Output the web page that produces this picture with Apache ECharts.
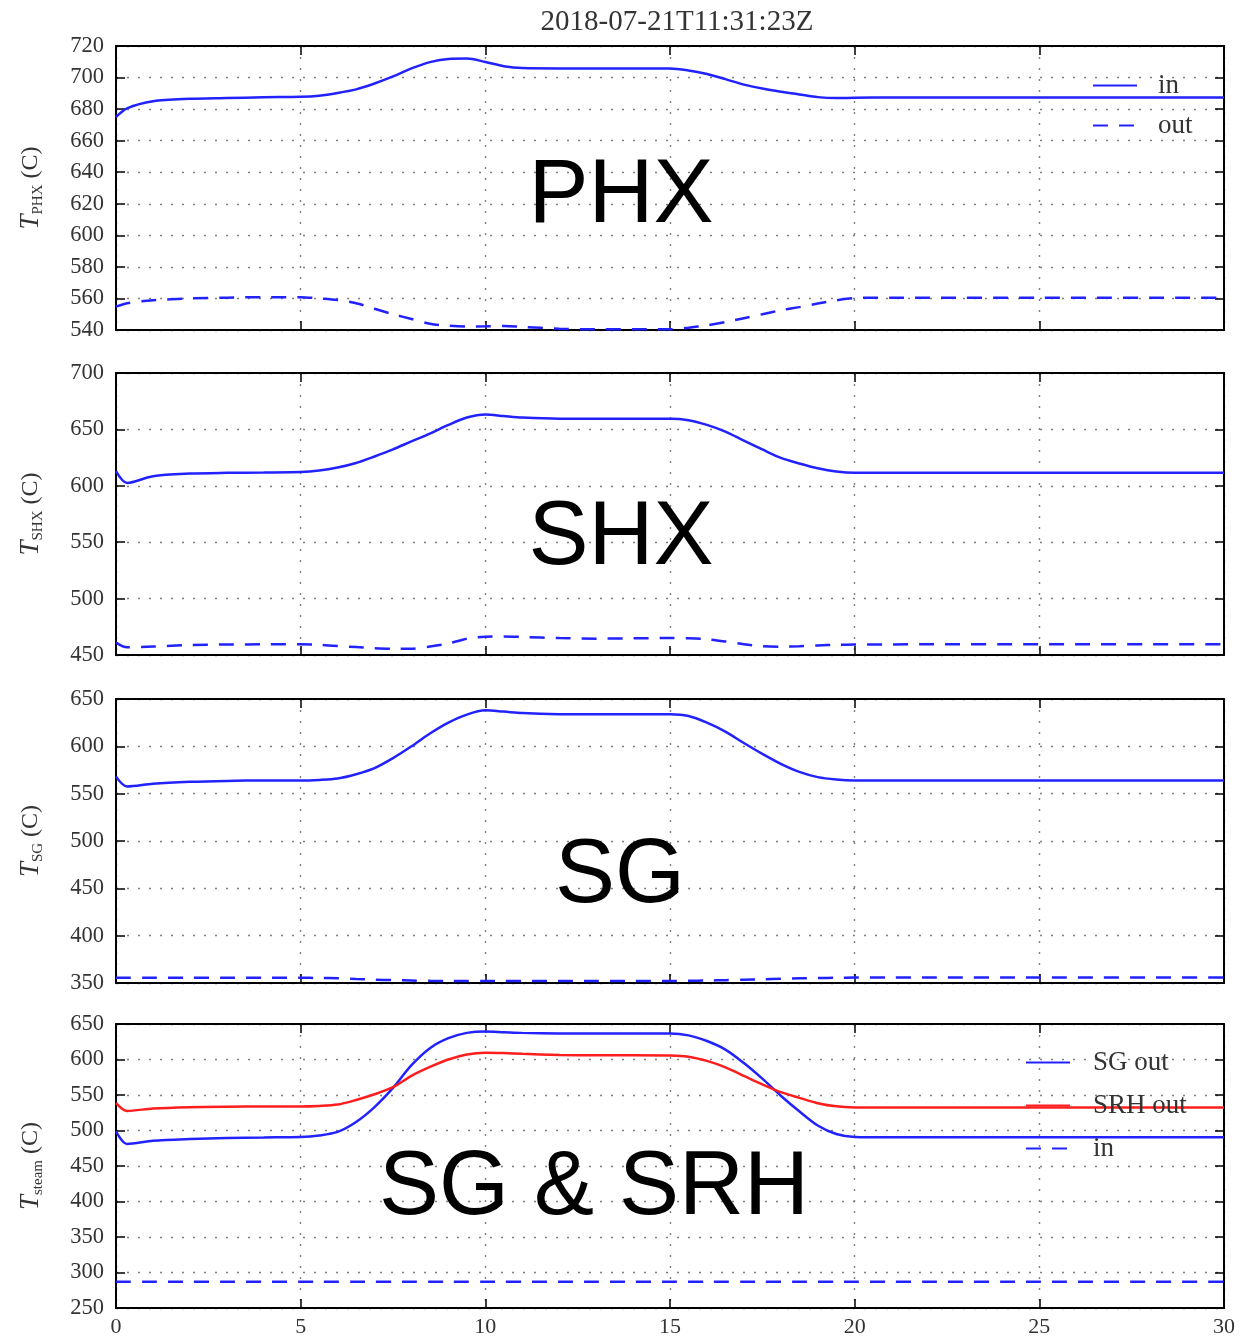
<!DOCTYPE html>
<html><head><meta charset="utf-8">
<script src="https://cdn.jsdelivr.net/npm/echarts@6/dist/echarts.min.js"></script>
<style>html,body{margin:0;padding:0;background:#fff}#c{width:1257px;height:1338px}</style>
</head><body><div id="c"></div>
<script>
// time axis (x)
const t = [0, 0.3, 1, 2, 3, 4, 5, 5.5, 6, 6.5, 7, 7.5, 8, 8.5, 9, 9.5, 10, 10.5, 11, 12, 13, 14, 15, 15.5, 16, 16.5, 17, 17.5, 18, 18.5, 19, 19.5, 20, 21, 22, 25, 30];
const xTicks = [0, 5, 10, 15, 20, 25, 30];
// PHX
const phxIn  = [675, 680.5, 685, 686.5, 687, 687.5, 687.8, 688.5, 690.2, 692.5, 696.2, 700.7, 705.8, 709.8, 711.8, 712, 709.9, 707.2, 706, 705.8, 705.8, 705.8, 705.8, 704.5, 702.2, 699, 695.5, 693, 691, 689.3, 687.6, 687, 687.2, 687.4, 687.4, 687.4, 687.4];
const phxOut = [554.8, 557, 558.8, 560, 560.5, 560.8, 560.8, 560, 559, 557, 553.5, 550, 547, 544, 542.7, 542.2, 542.3, 542.6, 542, 540.8, 540.4, 540.4, 540.4, 541.5, 542.9, 545, 547.5, 550, 552.5, 554.5, 556.8, 558.8, 560.2, 560.5, 560.5, 560.5, 560.5];
// SHX
const shxIn  = [613, 602.5, 608.5, 610.8, 611.5, 611.8, 612.2, 613.5, 616.2, 620.2, 626, 632.3, 639.4, 646.3, 654, 660.5, 663.2, 661.8, 660.5, 659.5, 659.5, 659.5, 659.5, 658.2, 654, 648, 640, 632.2, 624.8, 619.8, 615.5, 612.6, 611.5, 611.5, 611.5, 611.5, 611.5];
const shxOut = [461, 456.8, 457.5, 458.9, 459.3, 459.5, 459.6, 459, 458, 457, 456, 455.5, 455.6, 457.5, 460.2, 464.5, 466.2, 466.5, 466, 465, 464.5, 464.8, 465, 464.8, 464, 462, 459.5, 457.8, 457.4, 457.8, 458.5, 459, 459.2, 459.4, 459.5, 459.5, 459.5];
// SG
const sgIn   = [568, 557.6, 560.5, 562.5, 563.5, 563.9, 563.9, 564.5, 566, 570.5, 577, 587.5, 600, 613.5, 625, 633.5, 638, 636.7, 635.2, 634, 633.8, 633.8, 633.8, 632, 625, 615.5, 603.5, 592, 581.5, 573, 567.5, 565, 564, 563.9, 563.9, 563.9, 563.9];
const sgOut  = [355.5, 355.5, 355.5, 355.5, 355.5, 355.5, 355.5, 355.3, 355, 354.3, 353.6, 353, 352.6, 352.3, 352.2, 352.1, 352, 352, 352, 352, 352, 352, 352.1, 352.3, 352.6, 353, 353.5, 354, 354.5, 355, 355.3, 355.5, 355.7, 355.8, 355.8, 355.8, 355.8];
// SG & SRH (steam)
const steamSgOut  = [499, 481, 485.5, 488, 489.5, 490.2, 490.8, 493, 498, 512, 533, 560, 592, 616, 630, 637.5, 639.5, 638.5, 637.5, 636.7, 636.5, 636.5, 636.5, 634, 626, 614, 595, 573, 549, 527, 507, 495, 491, 490.5, 490.5, 490.5, 490.5];
const steamSrhOut = [538.6, 527.6, 531, 532.8, 533.5, 533.8, 533.8, 534.5, 536.5, 543, 551, 561, 577, 589.5, 600, 607, 609.5, 609, 608, 606.5, 606, 606, 605.7, 604, 598, 589, 577, 565, 554, 546, 538.5, 534, 532.5, 532.3, 532.3, 532.3, 532.3];
const steamIn     = [287, 287, 287, 287, 287, 287, 287, 287, 287, 287, 287, 287, 287, 287, 287, 287, 287, 287, 287, 287, 287, 287, 287, 287, 287, 287, 287, 287, 287, 287, 287, 287, 287, 287, 287, 287, 287];
// y ranges
const yMin = [540, 450, 350, 250];
const yMax = [720, 700, 650, 650];
const yStep = [20, 50, 50, 50];
const ySub = ['PHX', 'SHX', 'SG', 'steam'];
const panelLabels = ['PHX', 'SHX', 'SG', 'SG & SRH'];
const titleText = '2018-07-21T11:31:23Z';

const pairs = v => t.map((x, i) => [x, v[i]]);
const BLUE = '#2222ff', RED = '#ff1e1e';
const serif = '"Liberation Serif", "DejaVu Serif", serif';
const tops = [46, 373, 699, 1024];
const heights = [284, 282, 284, 284];

const grids = [], xAxes = [], yAxes = [];
for (let i = 0; i < 4; i++) {
  grids.push({ left: 116, right: 33, top: tops[i], height: heights[i], show: false });
  const axLine = { show: true, onZero: false, lineStyle: { color: '#000', width: 2 } };
  const tick = { show: true, inside: true, length: 9, lineStyle: { color: '#000', width: 1.5 } };
  const dotted = { show: true, lineStyle: { color: '#808080', width: 1.4, type: [2, 9] } };
  xAxes.push({ type: 'value', gridIndex: i, min: 0, max: 30, interval: 5, position: 'bottom',
    axisLine: axLine, axisTick: tick, splitLine: dotted,
    axisLabel: { show: i === 3, fontFamily: serif, fontSize: 22, color: '#333', margin: 8 } });
  xAxes.push({ type: 'value', gridIndex: i, min: 0, max: 30, interval: 5, position: 'top',
    axisLine: axLine, axisTick: tick, splitLine: { show: false }, axisLabel: { show: false } });
  yAxes.push({ type: 'value', gridIndex: i, min: yMin[i], max: yMax[i], interval: yStep[i], position: 'left',
    axisLine: axLine, axisTick: tick, splitLine: dotted,
    axisLabel: { fontFamily: serif, fontSize: 22.5, color: '#333', margin: 12, showMinLabel: true, showMaxLabel: true },
    name: '{t|T}{s|' + ySub[i] + '}{c| (C)}', nameLocation: 'middle', nameRotate: 90, nameGap: 70,
    nameTextStyle: { rich: {
      t: { fontFamily: serif, fontStyle: 'italic', fontSize: 27, color: '#333', lineHeight: 30 },
      s: { fontFamily: serif, fontSize: 15, color: '#333', verticalAlign: 'bottom', lineHeight: 12 },
      c: { fontFamily: serif, fontSize: 24, color: '#333', lineHeight: 30 } } } });
  yAxes.push({ type: 'value', gridIndex: i, min: yMin[i], max: yMax[i], interval: yStep[i], position: 'right',
    axisLine: axLine, axisTick: tick, splitLine: { show: false }, axisLabel: { show: false } });
}

function line(name, idx, data, color, dashed) {
  return { name, type: 'line', xAxisIndex: idx * 2, yAxisIndex: idx * 2, data: pairs(data),
    symbol: 'none', smooth: 0.3, z: 3, silent: true,
    lineStyle: { color, width: 2.5, type: dashed ? [15, 11] : 'solid' }, itemStyle: { color } };
}

const series = [
  line('in', 0, phxIn, BLUE, false),
  line('out', 0, phxOut, BLUE, true),
  line('shx in', 1, shxIn, BLUE, false),
  line('shx out', 1, shxOut, BLUE, true),
  line('sg in', 2, sgIn, BLUE, false),
  line('sg out', 2, sgOut, BLUE, true),
  line('SG out', 3, steamSgOut, BLUE, false),
  line('SRH out', 3, steamSrhOut, RED, false),
  line('in ', 3, steamIn, BLUE, true)
];

const legendBase = { orient: 'vertical', itemWidth: 44, itemHeight: 14,
  selectedMode: false, formatter: n => n.trim(),
  itemStyle: { opacity: 0 } };
const legendText = pad => ({ fontFamily: serif, fontSize: 27, color: '#333', padding: [0, 0, 0, pad] });

const bigFont = '90px "Liberation Sans", Arial, sans-serif';
const labelPos = [[621, 197], [621, 539], [620, 877], [594, 1189]];

const option = {
  animation: false,
  backgroundColor: '#fff',
  title: { text: titleText, left: 672, top: 3, textAlign: 'center',
    textStyle: { fontFamily: serif, fontSize: 29, fontWeight: 'normal', color: '#333' } },
  grid: grids, xAxis: xAxes, yAxis: yAxes, series,
  legend: [
    Object.assign({}, legendBase, { data: ['in', 'out'], left: 1087, top: 67, itemGap: 13, textStyle: legendText(16) }),
    Object.assign({}, legendBase, { data: ['SG out', 'SRH out', 'in '], left: 1020, top: 1044, itemGap: 16, textStyle: legendText(18) })
  ],
  graphic: panelLabels.map((s, i) => ({ type: 'text', x: labelPos[i][0], y: labelPos[i][1], z: 10,
    style: { text: s, font: bigFont, fill: '#000', textAlign: 'center', textVerticalAlign: 'middle' } }))
};
const chart = echarts.init(document.getElementById('c'), null, { renderer: 'canvas' });
chart.setOption(option);
</script></body></html>
